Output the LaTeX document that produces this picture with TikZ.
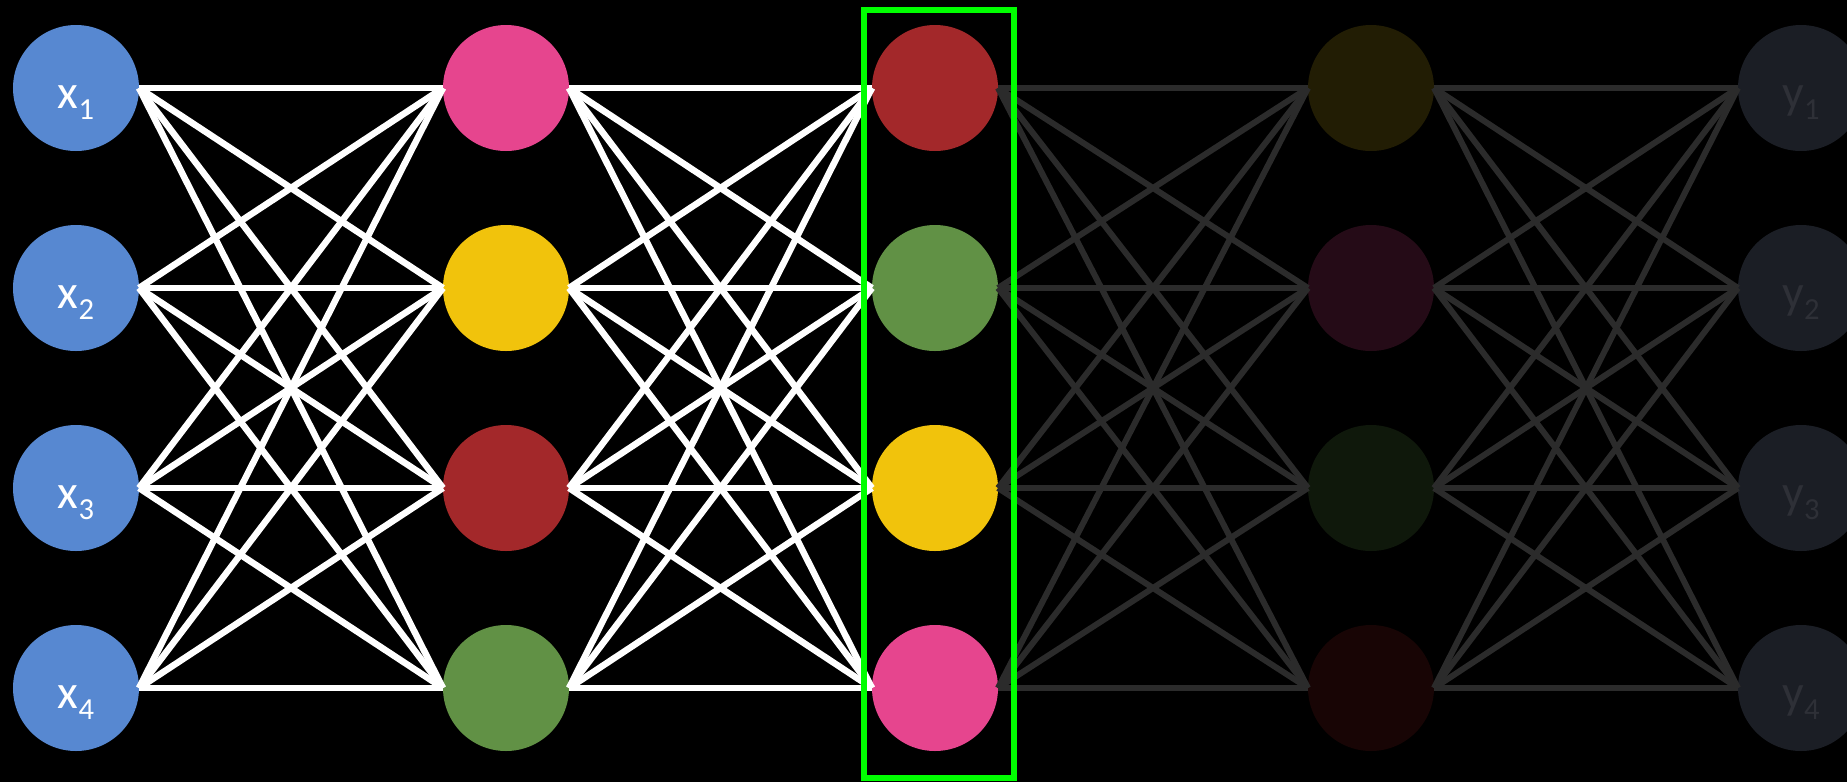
\documentclass[tikz,border=0pt]{standalone}
\usepackage{fontspec}
\setmainfont{Carlito}
\usepackage{xcolor}
\usetikzlibrary{positioning}

\definecolor{inblue}{RGB}{87,136,209}
\definecolor{npink}{RGB}{230,69,142}
\definecolor{nyellow}{RGB}{241,195,12}
\definecolor{nred}{RGB}{163,40,42}
\definecolor{ngreen}{RGB}{97,145,69}
\definecolor{dimolive}{RGB}{34,29,4}
\definecolor{dimplum}{RGB}{37,11,23}
\definecolor{dimgreen}{RGB}{15,24,11}
\definecolor{dimred}{RGB}{24,5,5}
\definecolor{outfill}{RGB}{27,30,37}
\definecolor{outtext}{RGB}{46,48,55}
\definecolor{dimedge}{RGB}{43,43,43}
\definecolor{boxgreen}{RGB}{0,255,0}

\newcommand{\nsub}[1]{\raisebox{-0.11cm}{\fontsize{8.7pt}{10pt}\selectfont #1}}

\begin{document}
\begin{tikzpicture}[
    neuron/.style={circle, minimum size=1.26cm, inner sep=0pt, outer sep=0pt, text height=0.5cm, text depth=0.1cm, font=\fontsize{13.6pt}{16pt}\selectfont},
    active/.style={draw=white, line width=0.065cm},
    faded/.style={draw=dimedge, line width=0.06cm},
    highlight/.style={draw=boxgreen, line width=0.06cm},
]
    \fill[black] (0,0) rectangle (18.47,-7.82);
    \clip (0,0) rectangle (18.47,-7.82);

    % input layer
    \node[neuron, fill=inblue, text=white] (x1) at (0.76,-0.88) {x\nsub{1}};
    \node[neuron, fill=inblue, text=white, below=0.74cm of x1] (x2) {x\nsub{2}};
    \node[neuron, fill=inblue, text=white, below=0.74cm of x2] (x3) {x\nsub{3}};
    \node[neuron, fill=inblue, text=white, below=0.74cm of x3] (x4) {x\nsub{4}};

    % first hidden layer
    \node[neuron, fill=npink, right=3.04cm of x1] (h1) {};
    \node[neuron, fill=nyellow, right=3.04cm of x2] (h2) {};
    \node[neuron, fill=nred, right=3.04cm of x3] (h3) {};
    \node[neuron, fill=ngreen, right=3.04cm of x4] (h4) {};

    % highlighted layer
    \node[neuron, fill=nred, right=3.03cm of h1] (g1) {};
    \node[neuron, fill=ngreen, right=3.03cm of h2] (g2) {};
    \node[neuron, fill=nyellow, right=3.03cm of h3] (g3) {};
    \node[neuron, fill=npink, right=3.03cm of h4] (g4) {};

    % faded layer
    \node[neuron, fill=dimolive, right=3.10cm of g1] (d1) {};
    \node[neuron, fill=dimplum, right=3.10cm of g2] (d2) {};
    \node[neuron, fill=dimgreen, right=3.10cm of g3] (d3) {};
    \node[neuron, fill=dimred, right=3.10cm of g4] (d4) {};

    % output layer
    \node[neuron, fill=outfill, text=outtext, right=3.04cm of d1] (y1) {y\nsub{1}};
    \node[neuron, fill=outfill, text=outtext, right=3.04cm of d2] (y2) {y\nsub{2}};
    \node[neuron, fill=outfill, text=outtext, right=3.04cm of d3] (y3) {y\nsub{3}};
    \node[neuron, fill=outfill, text=outtext, right=3.04cm of d4] (y4) {y\nsub{4}};

    \foreach \i in {1,...,4} {
        \foreach \j in {1,...,4} {
            \draw[active] (x\i.east) -- (h\j.west);
            \draw[active] (h\i.east) -- (g\j.west);
            \draw[faded] (g\i.east) -- (d\j.west);
            \draw[faded] (d\i.east) -- (y\j.west);
        }
    }

    \draw[highlight] (8.64,-0.10) rectangle (10.14,-7.78);
\end{tikzpicture}
\end{document}
